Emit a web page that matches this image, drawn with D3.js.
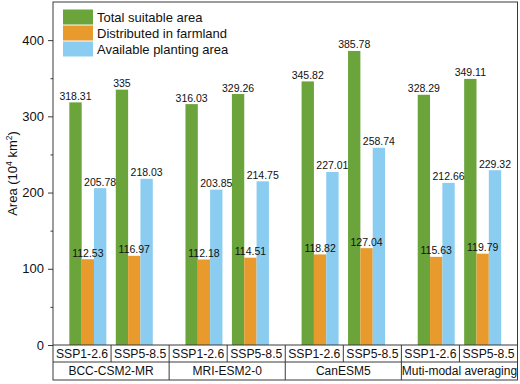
<!DOCTYPE html>
<html><head><meta charset="utf-8">
<script src="https://cdn.jsdelivr.net/npm/d3@7"></script>
<style>
html,body{margin:0;padding:0;background:#fff;}
svg{display:block;font-family:"Liberation Sans",Arial,sans-serif;}
</style></head>
<body><svg id="chart" width="520" height="384"></svg>
<script>
const models = ["BCC-CSM2-MR", "MRI-ESM2-0", "CanESM5", "Muti-modal averaging"];
const scenarios = ["SSP1-2.6", "SSP5-8.5"];
const seriesNames = ["Total suitable area", "Distributed in farmland", "Available planting area"];
const totalSuitable = [318.31, 335, 316.03, 329.26, 345.82, 385.78, 328.29, 349.11];
const farmland = [112.53, 116.97, 112.18, 114.51, 118.82, 127.04, 115.63, 119.79];
const available = [205.78, 218.03, 203.85, 214.75, 227.01, 258.74, 212.66, 229.32];
const yTicks = [0, 100, 200, 300, 400];
const yMinorTicks = [50, 150, 250, 350];
const colors = ["#6aa43a", "#e89a2c", "#8bcdf0"];

const seriesValues = [totalSuitable, farmland, available];
const rows = [];
models.forEach((m, mi) => scenarios.forEach((s, si) => {
  const idx = mi * 2 + si;
  seriesNames.forEach((n, ni) => rows.push({model: m, scen: s, series: n, ni, value: seriesValues[ni][idx]}));
}));

const svg = d3.select("#chart");
const L = 53, R = 517.5, T = 2, B = 345;
const lineColor = "#3a3a3a";

const y = d3.scaleLinear().domain([0, 450]).range([B, T]);
const x0 = d3.scaleBand().domain(models).range([L, R]).padding(0);
const x1 = d3.scalePoint().domain(scenarios).range([0, x0.bandwidth()]).padding(0.75);
const xs = d3.scaleBand().domain(seriesNames).range([-18.5, 18.5]).padding(0);

// bars
svg.append("g").selectAll("rect").data(rows).join("rect")
  .attr("x", d => x0(d.model) + x1(d.scen) + xs(d.series))
  .attr("y", d => y(d.value))
  .attr("width", xs.bandwidth())
  .attr("height", d => B - y(d.value))
  .attr("fill", d => colors[d.ni]);

// value labels
svg.append("g").selectAll("text").data(rows).join("text")
  .attr("x", d => x0(d.model) + x1(d.scen) + xs(d.series) + xs.bandwidth() / 2)
  .attr("y", d => y(d.value) - 2.5)
  .attr("text-anchor", "middle")
  .attr("font-size", 10.5)
  .attr("fill", "#111")
  .text(d => String(d.value));

// y axis
const yAxis = d3.axisLeft(y).tickValues(yTicks).tickSize(5).tickPadding(4);
const gy = svg.append("g").attr("transform", `translate(${L},0)`).call(yAxis);
gy.select(".domain").remove();
gy.selectAll(".tick line").attr("stroke", lineColor);
gy.selectAll(".tick text").attr("font-size", 13).attr("fill", "#111")
  .attr("font-family", "Liberation Sans, Arial, sans-serif");
const yMinor = d3.axisLeft(y).tickValues(yMinorTicks).tickSize(2.5).tickFormat("");
const gym = svg.append("g").attr("transform", `translate(${L},0)`).call(yMinor);
gym.select(".domain").remove();
gym.selectAll(".tick line").attr("stroke", lineColor);

// frame
const r1 = 362, r2 = 380;
svg.append("rect").attr("x", L).attr("y", T).attr("width", R - L).attr("height", r2 - T)
  .attr("fill", "none").attr("stroke", lineColor).attr("stroke-width", 1);
svg.append("line").attr("x1", L).attr("x2", R).attr("y1", B).attr("y2", B).attr("stroke", lineColor);
svg.append("line").attr("x1", L).attr("x2", R).attr("y1", r1).attr("y2", r1).attr("stroke", lineColor);

// table verticals
models.forEach((m, i) => {
  const xs0 = x0(m);
  if (i > 0) svg.append("line").attr("x1", xs0).attr("x2", xs0).attr("y1", B).attr("y2", r2).attr("stroke", lineColor);
  const mid = xs0 + x0.bandwidth() / 2;
  svg.append("line").attr("x1", mid).attr("x2", mid).attr("y1", B).attr("y2", r1).attr("stroke", lineColor);
  scenarios.forEach((s, si) => {
    svg.append("text")
      .attr("x", xs0 + x0.bandwidth() * (si * 2 + 1) / 4)
      .attr("y", (B + r1) / 2)
      .attr("dy", "0.36em")
      .attr("text-anchor", "middle")
      .attr("font-size", 12.2)
      .attr("fill", "#111")
      .text(s);
  });
  svg.append("text")
    .attr("x", mid)
    .attr("y", (r1 + r2) / 2)
    .attr("dy", "0.36em")
    .attr("text-anchor", "middle")
    .attr("font-size", 12)
    .attr("fill", "#111")
    .text(m);
});

// y title
const yt = svg.append("text")
  .attr("transform", `translate(17,${(T + B) / 2}) rotate(-90)`)
  .attr("text-anchor", "middle")
  .attr("font-size", 13)
  .attr("fill", "#111");
yt.append("tspan").text("Area (10");
yt.append("tspan").attr("font-size", 8.5).attr("dy", -5).text("4");
yt.append("tspan").attr("dy", 5).text(" km");
yt.append("tspan").attr("font-size", 8.5).attr("dy", -5).text("2");
yt.append("tspan").attr("dy", 5).text(")");

// legend
const lg = svg.append("g");
seriesNames.forEach((n, i) => {
  lg.append("rect").attr("x", 63).attr("y", 9.5 + i * 16).attr("width", 30).attr("height", 15)
    .attr("fill", colors[i]);
  lg.append("text").attr("x", 97).attr("y", 17 + i * 16).attr("dy", "0.36em")
    .attr("font-size", 13).attr("fill", "#111").text(n);
});
</script></body></html>
